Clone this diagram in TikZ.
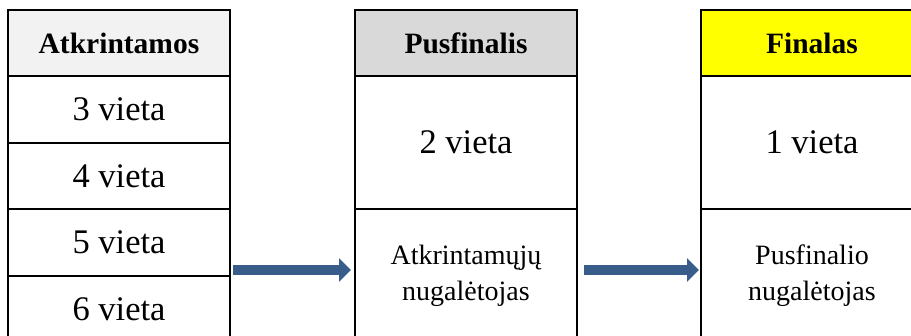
\documentclass[tikz,border=0pt]{standalone}
\usepackage{fontspec}
\setmainfont{Liberation Serif}
\usetikzlibrary{arrows.meta}
\definecolor{hdrA}{HTML}{F2F2F2}
\definecolor{hdrB}{HTML}{D9D9D9}
\definecolor{hdrC}{HTML}{FFFF00}
\definecolor{arrblue}{HTML}{385D8A}
\tikzset{
  cell/.style={draw=black, line width=2pt, minimum width=222pt, inner sep=0pt, align=center},
  hdr/.style={cell, minimum height=66pt, font=\fontsize{29.5}{33}\selectfont\bfseries},
  row/.style={cell, minimum height=66.5pt, font=\fontsize{34.5}{40}\selectfont},
  tall/.style={cell, minimum height=133pt, font=\fontsize{34.5}{40}\selectfont},
  tallsmall/.style={cell, minimum height=133pt, font=\fontsize{28}{36}\selectfont},
  flow/.style={draw=arrblue, line width=10pt, -{Triangle[length=12pt,width=23pt]}}
}
\begin{document}
\begin{tikzpicture}[x=1pt,y=-1pt]
\clip (0,0) rectangle (911,335);
% left table
\node[hdr, fill=hdrA] (lh) at (119,43) {Atkrintamos};
\node[row] (l3) at (119,109.25) {3 vieta};
\node[row] (l4) at (119,175.75) {4 vieta};
\node[row] (l5) at (119,242.25) {5 vieta};
\node[row] (l6) at (119,308.75) {6 vieta};
% middle table
\node[hdr, fill=hdrB] (mh) at (466,43) {Pusfinalis};
\node[tall] (m2) at (466,142.5) {\raisebox{-4pt}{2 vieta}};
\node[tallsmall] (mw) at (466,275.5) {Atkrintamųjų\\nugalėtojas};
% right table
\node[hdr, fill=hdrC] (rh) at (812,43) {Finalas};
\node[tall] (r1) at (812,142.5) {\raisebox{-4pt}{1 vieta}};
\node[tallsmall] (rw) at (812,275.5) {Pusfinalio\\nugalėtojas};
% arrows
\draw[flow] ([xshift=2pt,yshift=4.5pt]l6.north east) -- ([xshift=-3pt,yshift=4.5pt]mw.west |- l6.north);
\draw[flow] ([xshift=6pt,yshift=4.5pt]mw.east |- l6.north) -- ([xshift=-1pt,yshift=4.5pt]rw.west |- l6.north);
\end{tikzpicture}
\end{document}
